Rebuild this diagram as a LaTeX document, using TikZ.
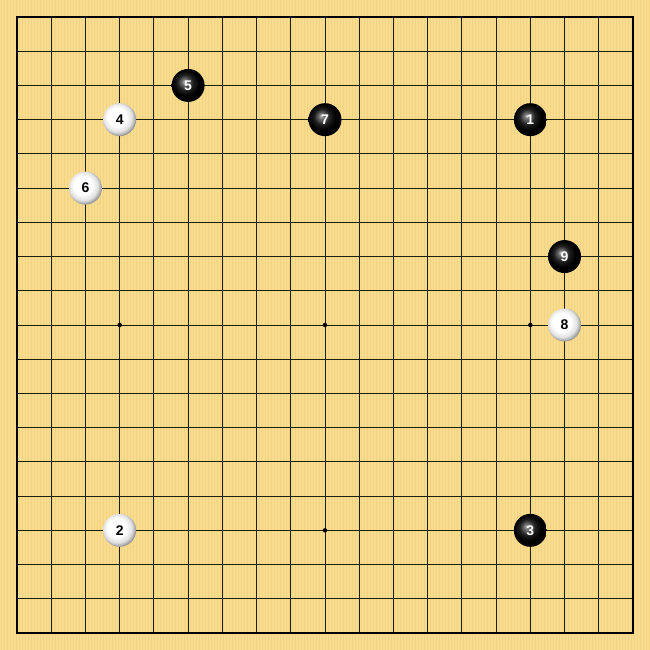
\documentclass[tikz,border=0pt]{standalone}
\usepackage{fontspec}
\setmainfont{Liberation Sans}
\definecolor{wood}{RGB}{249,220,142}
\definecolor{woodline}{RGB}{238,205,125}
\definecolor{gridc}{RGB}{30,30,10}
\pgfdeclareradialshading{whiteball}{\pgfpoint{-6bp}{6bp}}{%
  color(0bp)=(white); color(14bp)=(white); color(22bp)=(black!12); color(27bp)=(black!40); color(50bp)=(black!40)}
\pgfdeclareradialshading{blackball}{\pgfpoint{-6bp}{6bp}}{%
  color(0bp)=(black!25); color(4bp)=(black!55); color(12bp)=(black!88); color(20bp)=(black); color(50bp)=(black)}
\tikzset{
  blackstone/.style={circle,minimum size=33pt,inner sep=0pt,shading=blackball,text=white,font=\bfseries\fontsize{14}{14}\selectfont},
  whitestone/.style={circle,minimum size=33pt,inner sep=0pt,shading=whiteball,text=black,font=\bfseries\fontsize{14}{14}\selectfont},
  gridline/.style={draw=gridc,line width=0.9pt},
  borderline/.style={draw=black,line width=1.8pt},
  starpt/.style={circle,fill=black,minimum size=4.5pt,inner sep=0pt}
}
\begin{document}
\begin{tikzpicture}[x=1pt,y=-1pt]
\useasboundingbox (0,0) rectangle (650,650);
\fill[wood] (0,0) rectangle (650,650);
\foreach \i in {0,3,...,648} {
  \draw[woodline,line width=0.8pt,opacity=0.6] (\i+1,0) -- (\i+1,650);
}
\def\gs{34.2222}
\foreach \k in {1,...,17} {
  \draw[gridline] (17+\k*\gs,17) -- (17+\k*\gs,633);
  \draw[gridline] (17,17+\k*\gs) -- (633,17+\k*\gs);
}
\draw[borderline] (17,17) rectangle (633,633);
\foreach \c/\r [count=\n] in {3/3,9/3,15/3,3/9,9/9,15/9,3/15,9/15,15/15} {
  \node[starpt] (s\n) at (17+\c*\gs,17+\r*\gs) {};
}
\node[blackstone] (b1) at (17+15*\gs,17+3*\gs) {1};
\node[whitestone] (w2) at (17+3*\gs,17+15*\gs) {2};
\node[blackstone] (b3) at (17+15*\gs,17+15*\gs) {3};
\node[whitestone] (w4) at (17+3*\gs,17+3*\gs) {4};
\node[blackstone] (b5) at (17+5*\gs,17+2*\gs) {5};
\node[whitestone] (w6) at (17+2*\gs,17+5*\gs) {6};
\node[blackstone] (b7) at (17+9*\gs,17+3*\gs) {7};
\node[whitestone] (w8) at (17+16*\gs,17+9*\gs) {8};
\node[blackstone] (b9) at (17+16*\gs,17+7*\gs) {9};
\end{tikzpicture}
\end{document}
